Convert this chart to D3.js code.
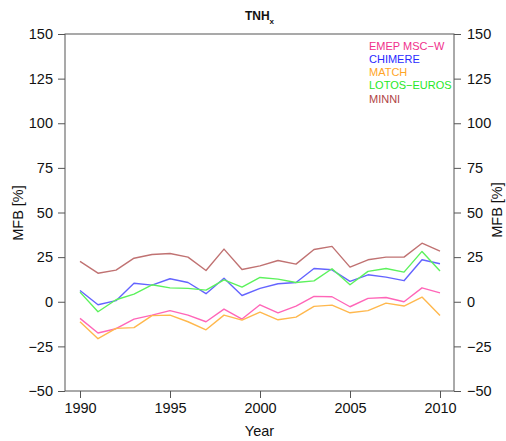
<!DOCTYPE html>
<html>
<head>
<meta charset="utf-8">
<script src="https://cdn.jsdelivr.net/npm/d3@7"></script>
<style>
  html, body { margin: 0; padding: 0; background: #fff; }
  svg { display: block; font-family: "Liberation Sans", Arial, Helvetica, sans-serif; }
</style>
</head>
<body>
<svg id="chart" width="506" height="441"></svg>
<script>
// Annual mean fractional bias of total reduced nitrogen, per model
const years = d3.range(1990, 2011);
const models = ["EMEP MSC\u2212W", "CHIMERE", "MATCH", "LOTOS\u2212EUROS", "MINNI"];

const emep    = [-9.3, -17.5, -15.1, -9.7, -7.5, -5.0, -7.5, -11.2, -4.1, -9.7, -1.7, -6.2, -2.4, 3.0, 2.8, -2.8, 1.9, 2.4, 0.0, 7.8, 5.0];
const chimere = [6.3, -1.7, 0.6, 10.4, 9.3, 12.9, 10.8, 4.5, 13.2, 3.5, 7.5, 10.1, 10.8, 18.6, 17.9, 11.4, 15.1, 13.8, 11.8, 23.5, 21.3];
const match   = [-11.2, -20.7, -14.9, -14.5, -7.8, -7.5, -11.2, -15.7, -7.5, -10.3, -5.8, -10.1, -8.6, -2.6, -1.9, -6.2, -5.0, -0.8, -2.4, 2.6, -7.7];
const lotos   = [5.4, -5.6, 1.1, 4.3, 9.5, 7.8, 7.5, 6.5, 12.3, 8.2, 13.6, 12.7, 10.8, 11.7, 18.5, 9.5, 17.0, 18.6, 16.6, 28.2, 17.2];
const minni   = [22.6, 16.0, 17.7, 24.4, 26.5, 27.0, 25.0, 17.5, 29.5, 18.1, 20.1, 23.1, 21.1, 29.3, 31.0, 19.4, 23.5, 25.0, 25.0, 32.8, 28.4];

const xTicks = [1990, 1995, 2000, 2005, 2010];
const yTicks = [-50, -25, 0, 25, 50, 75, 100, 125, 150];

const lineColors = ["#ff66b8", "#6464ff", "#ffb84d", "#5cf25c", "#c07272"];
const textColors = ["#f0308c", "#2a2aff", "#ffa526", "#26e826", "#b04545"];

const seriesValues = [emep, chimere, match, lotos, minni];

const svg = d3.select("#chart");
const box = { left: 65, right: 454, top: 34, bottom: 391 };

const x = d3.scaleLinear().domain([1990, 2010]).range([80, 440]);
const y = d3.scaleLinear().domain([-50, 150]).range([box.bottom, box.top]);

const axisColor = "#555";
const fontSize = 14.5;

// plot frame
svg.append("rect")
  .attr("x", box.left).attr("y", box.top)
  .attr("width", box.right - box.left).attr("height", box.bottom - box.top)
  .attr("fill", "none").attr("stroke", axisColor).attr("stroke-width", 1);

function styleAxis(g) {
  g.select(".domain").remove();
  g.selectAll(".tick line").attr("stroke", axisColor);
  g.selectAll(".tick text").attr("fill", "#111").style("font-size", fontSize + "px")
    .style("font-family", "'Liberation Sans', Arial, sans-serif");
}

const signed = d => d < 0 ? "\u2212" + Math.abs(d) : String(d);

// bottom axis
svg.append("g")
  .attr("transform", `translate(0,${box.bottom})`)
  .call(d3.axisBottom(x).tickValues(xTicks).tickFormat(d3.format("d")).tickSize(7).tickPadding(5))
  .call(styleAxis);

// left axis
svg.append("g")
  .attr("transform", `translate(${box.left},0)`)
  .call(d3.axisLeft(y).tickValues(yTicks).tickFormat(signed).tickSize(7).tickPadding(5))
  .call(styleAxis);

// right axis
svg.append("g")
  .attr("transform", `translate(${box.right},0)`)
  .call(d3.axisRight(y).tickValues(yTicks).tickFormat(signed).tickSize(7).tickPadding(6))
  .call(styleAxis);

// series lines
const line = d3.line().x((d, i) => x(years[i])).y(d => y(d));
seriesValues.forEach((vals, k) => {
  svg.append("path")
    .datum(vals)
    .attr("d", line)
    .attr("fill", "none")
    .attr("stroke", lineColors[k])
    .attr("stroke-width", 1.4)
    .attr("stroke-linejoin", "round");
});

// legend
const legend = svg.append("g").attr("transform", "translate(369,0)");
models.forEach((name, k) => {
  legend.append("text")
    .attr("x", 0)
    .attr("y", 49.5 + k * 13.3)
    .attr("fill", textColors[k])
    .style("font-size", "11px")
    .text(name);
});

// title with subscript
const title = svg.append("text")
  .attr("x", 259.5).attr("y", 20)
  .attr("text-anchor", "middle")
  .style("font-size", "12px").style("font-weight", "bold").attr("fill", "#111");
title.append("tspan").text("TNH");
title.append("tspan").attr("dy", 3.5).style("font-size", "8px").text("x");

// axis titles
svg.append("text")
  .attr("x", 259.5).attr("y", 436)
  .attr("text-anchor", "middle")
  .style("font-size", fontSize + "px").attr("fill", "#111")
  .text("Year");

svg.append("text")
  .attr("transform", "translate(18,213) rotate(-90)")
  .attr("text-anchor", "middle").attr("dy", "0.35em")
  .style("font-size", fontSize + "px").attr("fill", "#111")
  .text("MFB [%]");

svg.append("text")
  .attr("transform", "translate(497,210) rotate(-90)")
  .attr("text-anchor", "middle").attr("dy", "0.35em")
  .style("font-size", fontSize + "px").attr("fill", "#111")
  .text("MFB [%]");
</script>
</body>
</html>
